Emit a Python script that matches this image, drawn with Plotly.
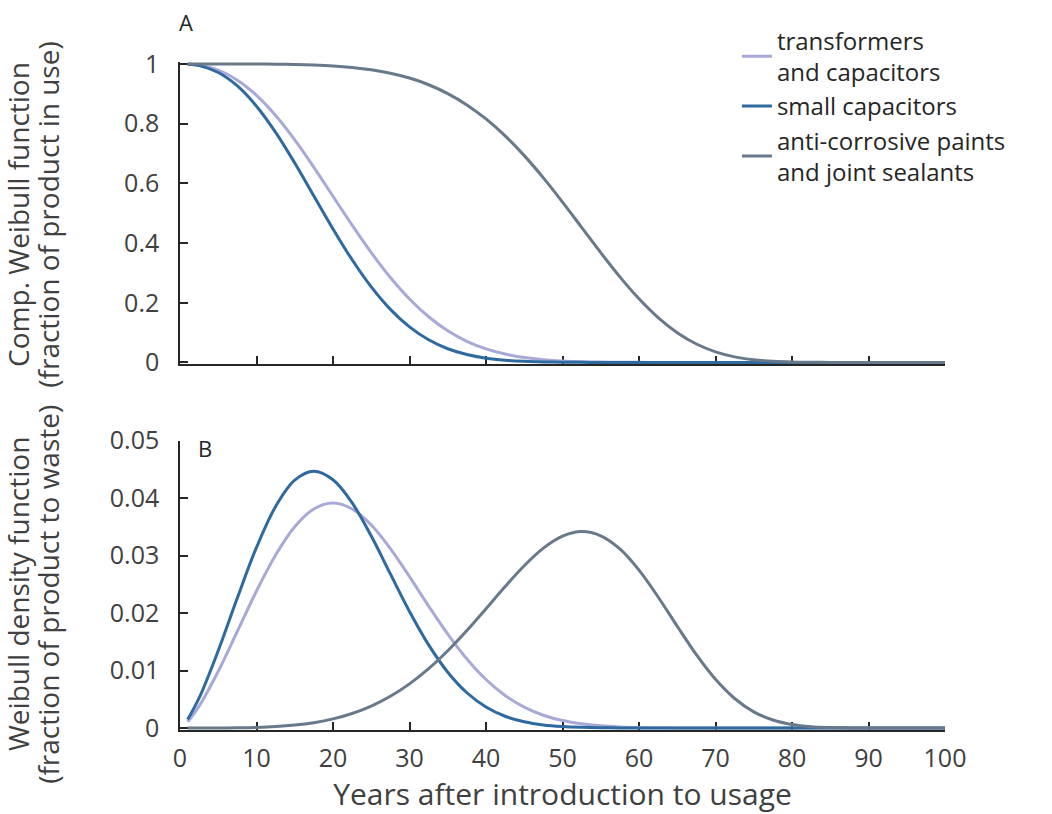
import plotly.graph_objects as go

# ---------------- data ----------------
years = [1, 2.5, 5, 7.5, 10, 12.5, 15, 17.5, 20, 22.5, 25, 27.5, 30, 32.5, 35,
         37.5, 40, 42.5, 45, 47.5, 50, 52.5, 55, 57.5, 60, 62.5, 65, 67.5, 70,
         72.5, 75, 77.5, 80, 82.5, 85, 87.5, 90, 92.5, 95, 97.5, 100]

# Panel A: complementary Weibull function (fraction of product in use)
surv_transformers = [0.9996, 0.9960, 0.9792, 0.9459, 0.8950, 0.8274, 0.7457, 0.6539,
                     0.5569, 0.4600, 0.3679, 0.2845, 0.2125, 0.1531, 0.1062, 0.0709,
                     0.0455, 0.0281, 0.0166, 0.0094, 0.0051, 0.0026, 0.0013, 0.0006,
                     0.0003, 0.0001, 0, 0, 0, 0, 0, 0, 0, 0, 0, 0, 0, 0, 0, 0, 0]
surv_small_caps = [0.9994, 0.9946, 0.9715, 0.9265, 0.8586, 0.7708, 0.6682, 0.5578,
                   0.4474, 0.3440, 0.2531, 0.1778, 0.1191, 0.0759, 0.0459, 0.0264,
                   0.0143, 0.0074, 0.0036, 0.0016, 0.0007, 0.0003, 0.0001, 0, 0, 0,
                   0, 0, 0, 0, 0, 0, 0, 0, 0, 0, 0, 0, 0, 0, 0]
surv_paints = [1.0, 1.0, 1.0, 1.0, 0.9998, 0.9994, 0.9985, 0.9967, 0.9937, 0.9886,
               0.9808, 0.9692, 0.9529, 0.9305, 0.9009, 0.8630, 0.8159, 0.7592, 0.6930,
               0.6185, 0.5374, 0.4527, 0.3679, 0.2868, 0.2133, 0.1503, 0.0997, 0.0618,
               0.0355, 0.0187, 0.0090, 0.0039, 0.0015, 0.0005, 0.0001, 0, 0, 0, 0, 0, 0]

# Panel B: Weibull density function (fraction of product to waste)
dens_transformers = [0.00106, 0.00381, 0.00988, 0.01683, 0.02383, 0.03010, 0.03501,
                     0.03810, 0.03912, 0.03810, 0.03532, 0.03121, 0.02633, 0.02121,
                     0.01633, 0.01201, 0.00844, 0.00566, 0.00363, 0.00222, 0.00129,
                     0.00072, 0.00038, 0.00019, 0.00009, 0.00004, 0.00002, 0, 0, 0, 0,
                     0, 0, 0, 0, 0, 0, 0, 0, 0, 0]
dens_small_caps = [0.00146, 0.00522, 0.01346, 0.02265, 0.03141, 0.03853, 0.04311,
                   0.04466, 0.04318, 0.03916, 0.03339, 0.02680, 0.02027, 0.01445,
                   0.00970, 0.00613, 0.00365, 0.00204, 0.00108, 0.00053, 0.00025,
                   0.00011, 0.00004, 0.00002, 0, 0, 0, 0, 0, 0, 0, 0, 0, 0, 0, 0, 0,
                   0, 0, 0, 0]
dens_paints = [0, 0, 0.00001, 0.00003, 0.00010, 0.00024, 0.00050, 0.00093, 0.00158,
               0.00252, 0.00381, 0.00551, 0.00767, 0.01031, 0.01343, 0.01695, 0.02075,
               0.02461, 0.02823, 0.03128, 0.03337, 0.03417, 0.03344, 0.03115, 0.02747,
               0.02279, 0.01769, 0.01274, 0.00846, 0.00513, 0.00281, 0.00139, 0.00061,
               0.00023, 0.00008, 0.00002, 0, 0, 0, 0, 0]

series_names = ["transformers<br>and capacitors", "small capacitors",
                "anti-corrosive paints<br>and joint sealants"]
x_ticks = [0, 10, 20, 30, 40, 50, 60, 70, 80, 90, 100]
ya_ticks = [0, 0.2, 0.4, 0.6, 0.8, 1]
ya_labels = ["0", "0.2", "0.4", "0.6", "0.8", "1"]
yb_ticks = [0, 0.01, 0.02, 0.03, 0.04, 0.05]
yb_labels = ["0", "0.01", "0.02", "0.03", "0.04", "0.05"]
ya_title = ["Comp. Weibull function", "(fraction of product in use)"]
yb_title = ["Weibull density function", "(fraction of product to waste)"]
x_title = "Years after introduction to usage"

# ---------------- styling ----------------
colors = ["#a8a9d7", "#2e6a9f", "#67798a"]
FONT = "Open Sans"
AX = "#262626"
TXT = "#404040"

fig = go.Figure()
surv = [surv_transformers, surv_small_caps, surv_paints]
dens = [dens_transformers, dens_small_caps, dens_paints]
for name, col, s, d in zip(series_names, colors, surv, dens):
    fig.add_trace(go.Scatter(x=years, y=s, mode="lines", name=name, legendgroup=name,
                             line=dict(color=col, width=3, shape="spline"),
                             xaxis="x", yaxis="y", hoverinfo="skip"))
    fig.add_trace(go.Scatter(x=years, y=d, mode="lines", name=name, legendgroup=name,
                             showlegend=False,
                             line=dict(color=col, width=3, shape="spline"),
                             xaxis="x2", yaxis="y2", hoverinfo="skip"))

common_axis = dict(showgrid=False, zeroline=False, showline=True, linecolor=AX,
                   linewidth=1.5, ticks="inside", ticklen=8, tickwidth=1.5,
                   tickcolor=AX, layer="below traces",
                   tickfont=dict(family=FONT, size=25, color=TXT))

title_font = dict(family=FONT, size=28, color=TXT)
annotations = [
    dict(text="A", x=0.008, y=1.06, xanchor="center", yanchor="middle"),
    dict(text="B", x=0.033, y=0.4224, xanchor="center", yanchor="middle"),
]
for a in annotations:
    a.update(xref="paper", yref="paper", showarrow=False,
             font=dict(family=FONT, size=22, color="#262626"))
# y-axis titles (two lines each, rotated), placed left of the tick labels
for txt, xp, yp in [(ya_title[0], -0.211, 0.772), (ya_title[1], -0.172, 0.772),
                    (yb_title[0], -0.211, 0.203), (yb_title[1], -0.172, 0.203)]:
    annotations.append(dict(text=txt, x=xp, y=yp, xref="paper", yref="paper",
                            xanchor="center", yanchor="middle", textangle=-90,
                            showarrow=False, font=title_font))

fig.update_layout(
    width=1052, height=814,
    margin=dict(l=180, r=107, t=62, b=82),
    paper_bgcolor="white", plot_bgcolor="white",
    font=dict(family=FONT, color=TXT),
    xaxis=dict(domain=[0, 1], anchor="y", range=[0, 100], tickvals=x_ticks,
               showticklabels=False, **common_axis),
    yaxis=dict(domain=[0.548, 1], anchor="x", range=[-0.005, 1.0067],
               tickvals=ya_ticks, ticktext=ya_labels, ticklabelstandoff=14,
               **common_axis),
    xaxis2=dict(domain=[0, 1], anchor="y2", range=[0, 100], tickvals=x_ticks,
                ticklabelstandoff=5,
                title=dict(text=x_title,
                           font=dict(family=FONT, size=30, color=TXT), standoff=7),
                **common_axis),
    yaxis2=dict(domain=[0, 0.4333], anchor="x2", range=[-0.00035, 0.05],
                tickvals=yb_ticks, ticktext=yb_labels, ticklabelstandoff=14,
                **common_axis),
    legend=dict(x=0.728, y=1.065, xanchor="left", yanchor="top",
                bgcolor="rgba(0,0,0,0)", borderwidth=0, tracegroupgap=0,
                font=dict(family=FONT, size=24, color="#262626")),
    showlegend=True,
    annotations=annotations,
)

fig.write_html("out.html")
